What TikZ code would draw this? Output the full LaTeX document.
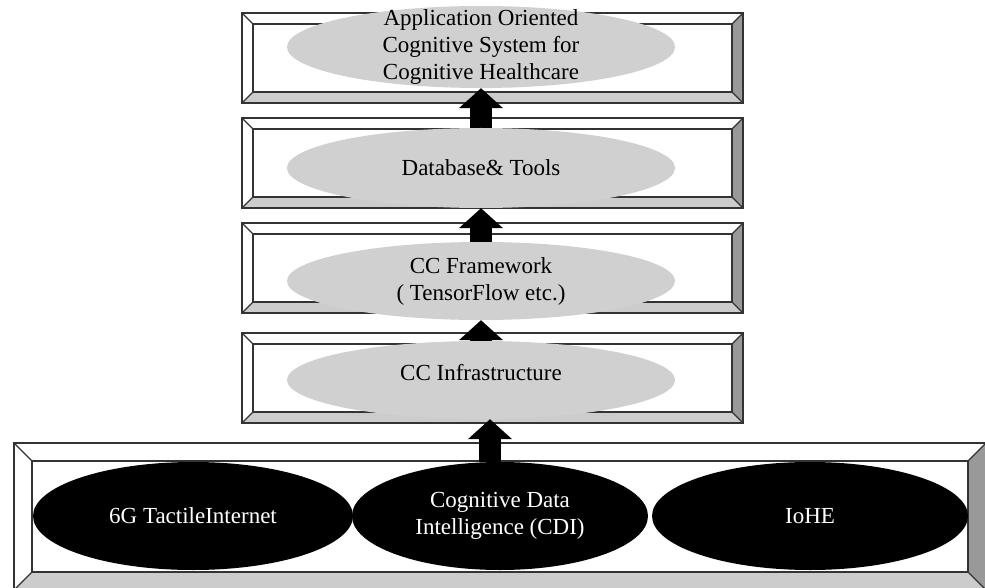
\documentclass[tikz,border=0pt]{standalone}
\usepackage{fontspec}
\setmainfont{Liberation Serif}
\usetikzlibrary{arrows.meta,shapes.geometric}
\pgfdeclarelayer{frames}
\pgfdeclarelayer{links}
\pgfsetlayers{frames,links,main}
\definecolor{sidegray}{HTML}{999999}
\definecolor{basegray}{HTML}{CCCCCC}
\definecolor{ovalgray}{HTML}{D0D0D0}
\definecolor{edgegray}{HTML}{333333}
\newcommand{\bevelframe}[5]{%
	\fill[white] (#1,#2) rectangle (#3,#4);
	\fill[sidegray] (#3,#2)--(#3,#4)--({#3-#5},{#4-#5})--({#3-#5},{#2+#5})--cycle;
	\fill[basegray] (#1,#4)--(#3,#4)--({#3-#5},{#4-#5})--({#1+#5},{#4-#5})--cycle;
	\draw[frame] (#1,#2) rectangle (#3,#4) ({#1+#5},{#2+#5}) rectangle ({#3-#5},{#4-#5});
	\draw[frame] (#1,#2)--({#1+#5},{#2+#5}) (#3,#2)--({#3-#5},{#2+#5}) (#1,#4)--({#1+#5},{#4-#5}) (#3,#4)--({#3-#5},{#4-#5});
}
\begin{document}
\begin{tikzpicture}[x=1pt,y=-1pt,line join=round,line cap=round,font=\fontsize{23}{27}\selectfont]
	\tikzset{frame/.style={draw=edgegray,line width=1.2pt},
		tier/.style={ellipse,fill=ovalgray,inner sep=0pt,minimum width=388pt,minimum height=80pt,align=center},
		source/.style={ellipse,fill=black,text=white,inner sep=0pt,minimum height=108pt,align=center},
		lift/.style={-{Triangle[width=43pt,length=20pt]},line width=22pt,line cap=butt}}
	\useasboundingbox (0,0) rectangle (985,588);
	\begin{pgfonlayer}{frames}
		\foreach \t in {13,118,223,333}
		\bevelframe{242}{\t}{743}{\t+90}{11};
		\bevelframe{14}{443}{986}{590}{18};
	\end{pgfonlayer}
	\node[tier,minimum height=82pt,inner ysep=-14pt] (app) at (481,47) {Application Oriented\\Cognitive System for\\Cognitive Healthcare};
	\node[tier] (db) at (481,168) {Database\& Tools};
	\node[tier,minimum height=78pt] (fw) at (481,281) {CC Framework\\( TensorFlow etc.)};
	\node[tier,minimum height=78pt,text depth=15pt] (infra) at (481,380) {CC Infrastructure};
	\node[source,minimum width=320pt] (tactile) at (193,516) {6G TactileInternet};
	\node[source,minimum width=296pt] (cdi) at (500,516) {Cognitive Data\\Intelligence (CDI)};
	\node[source,minimum width=316pt] (iohe) at (810,516) {IoHE};
	\begin{pgfonlayer}{links}
		\draw[lift] ([xshift=-10pt]cdi.north) -- ([xshift=9pt]infra.south);
		\draw[lift] (infra.north) -- (fw.south);
		\draw[lift] (fw.north) -- (db.south);
		\draw[lift] (db.north) -- (app.south);
	\end{pgfonlayer}
\end{tikzpicture}
\end{document}
